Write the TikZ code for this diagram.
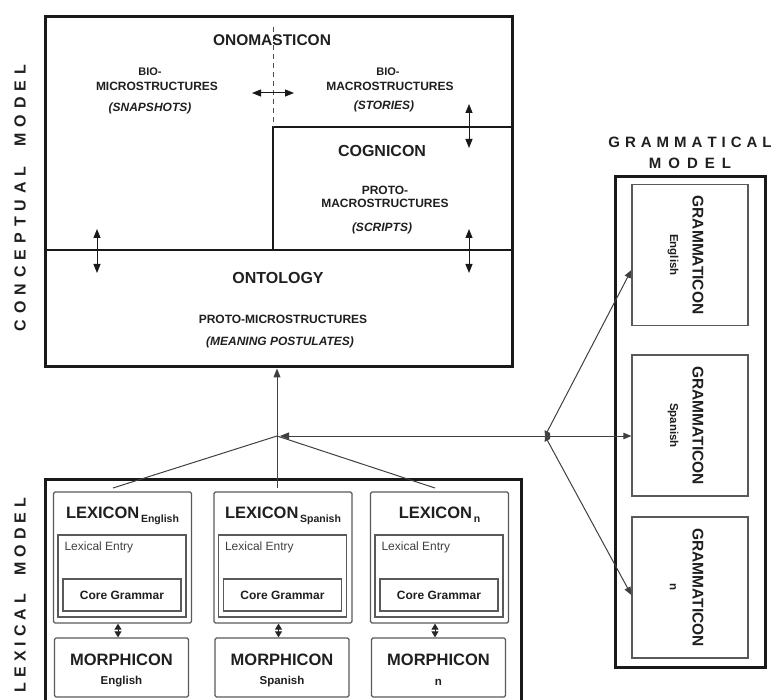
\documentclass[tikz,border=0pt]{standalone}
\usepackage{fontspec}
\setmainfont{Liberation Sans}
\usetikzlibrary{arrows.meta}
\newdimen\lskern \lskern=6pt
\def\lsA#1{\ifx#1\relax\else#1\kern\lskern\expandafter\lsA\fi}
\newcommand\lsp[1]{\lsA#1\relax\unkern}
\newcommand\fsz[1]{\fontsize{#1}{#1}\selectfont}
\tikzset{
  thickbox/.style={draw=black!90, line width=3pt, inner sep=0pt},
  thinbox/.style={draw=black!65, line width=1.3pt, rounded corners=1.5pt, inner sep=0pt},
  lbl/.style={text=black!88, align=center, inner sep=0pt, font=\bfseries},
  conn/.style={draw=black!75, line width=1pt},
  arr/.style={-{Triangle[length=9pt,width=7pt]}},
  darr/.style={{Triangle[length=9pt,width=7pt]}-{Triangle[length=9pt,width=7pt]}},
  sdarr/.style={{Triangle[length=6pt,width=7pt]}-{Triangle[length=6pt,width=7pt]}},
}
\begin{document}
\begin{tikzpicture}[x=1pt,y=-1pt]
\useasboundingbox (0,0) rectangle (779,700);

% ---------------- side labels
\node[lbl, rotate=90, font=\bfseries\fsz{16}] (lblC) at (20,198) {\lsp{CONCEPTUAL}\hspace{20pt}\lsp{MODEL}};
\node[lbl, rotate=90, font=\bfseries\fsz{16}] (lblL) at (20,595) {\lskern=5pt\lsp{LEXICAL}\hspace{18pt}\lsp{MODEL}};
\node[lbl, font=\bfseries\fsz{15}] (lblG1) at (690,142) {\lskern=5pt\lsp{GRAMMATICAL}};
\node[lbl, font=\bfseries\fsz{15}] (lblG2) at (690,163) {\lskern=7pt\lsp{MODEL}};

% ---------------- conceptual model
\node[thickbox, minimum width=467, minimum height=350] (concept) at (278.5,192) {};
\coordinate (divL) at (45,250);
\coordinate (divR) at (512,250);
\coordinate (cogA) at (273,250);
\coordinate (cogB) at (273,127);
\coordinate (cogC) at (512,127);
\draw[black!90, line width=2.6pt] (divL) -- (divR);
\draw[black!90, line width=2.6pt] (cogA) -- (cogB) -- (cogC);
\coordinate (dashT) at (273,27);
\draw[black!70, line width=0.9pt, dash pattern=on 5pt off 4pt] (dashT) -- (cogB);

\node[lbl, font=\bfseries\fsz{15.5}] (ono) at (272,40) {ONOMASTICON};
\node[lbl, font=\bfseries\fsz{11}] (bio1a) at (150,72) {BIO-};
\node[lbl, font=\bfseries\fsz{12}] (bio1b) at (157,86) {MICROSTRUCTURES};
\node[lbl, font=\bfseries\itshape\fsz{12}] (bio1c) at (150,108) {(SNAPSHOTS)};
\node[lbl, font=\bfseries\fsz{11}] (bio2a) at (388,72) {BIO-};
\node[lbl, font=\bfseries\fsz{12}] (bio2b) at (390,86) {MACROSTRUCTURES};
\node[lbl, font=\bfseries\itshape\fsz{12}] (bio2c) at (384,106) {(STORIES)};
\node[lbl, font=\bfseries\fsz{16}] (cog) at (382,151) {COGNICON};
\node[lbl, font=\bfseries\fsz{12}] (pm1) at (385,190) {PROTO-};
\node[lbl, font=\bfseries\fsz{12}] (pm2) at (385,203) {MACROSTRUCTURES};
\node[lbl, font=\bfseries\itshape\fsz{12}] (pm3) at (382,228) {(SCRIPTS)};
\node[lbl, font=\bfseries\fsz{16}] (onto) at (278,278) {ONTOLOGY};
\node[lbl, font=\bfseries\fsz{12}] (pmi1) at (283,319) {PROTO-MICROSTRUCTURES};
\node[lbl, font=\bfseries\itshape\fsz{12}] (pmi2) at (280,342) {(MEANING POSTULATES)};

\coordinate (hA) at (252,93);  \coordinate (hB) at (294,93);
\coordinate (v1A) at (469,104); \coordinate (v1B) at (469,148);
\coordinate (v2A) at (469,229); \coordinate (v2B) at (469,273);
\coordinate (v3A) at (97,229);  \coordinate (v3B) at (97,273);
\draw[conn, black!90, darr] (hA) -- (hB);
\draw[conn, black!90, darr] (v1A) -- (v1B);
\draw[conn, black!90, darr] (v2A) -- (v2B);
\draw[conn, black!90, darr] (v3A) -- (v3B);

% ---------------- grammatical model
\node[thickbox, minimum width=150, minimum height=490] (gram) at (690,422) {};
\foreach \c/\y/\sub in {E/255/English, S/425.5/Spanish, N/587.5/n}{
  \node[thinbox, rounded corners=0pt, minimum width=116, minimum height=141] (g\c) at (690,\y) {};
  \node[lbl, rotate=-90, font=\bfseries\fsz{15.5}] (gt\c) at (698,\y) {GRAMMATICON};
  \node[lbl, rotate=-90, font=\bfseries\fsz{11.5}] (gs\c) at (673,\y) {\sub};
}

% ---------------- lexical model
\node[thickbox, minimum width=476, minimum height=222] (lexmodel) at (283,590) {};
\foreach \c/\x/\sub in {E/122.5/English, S/283/Spanish, N/439.5/n}{
  \node[thinbox, minimum width=138, minimum height=131] (lex\c) at (\x,557.5) {};
  \node[lbl, anchor=base] (lext\c) at (\x,518) {{\fsz{16.5}LEXICON}\,\raisebox{-4.5pt}{\fsz{10.5}\sub}};
  \node[thinbox, rounded corners=0pt, minimum width=128, minimum height=82] (ent\c) at (\x-0.5,576) {};
  \coordinate (enty\c) at (\x,547);
  \node[lbl, font=\fsz{12}, anchor=west, text=black!75] (entt\c) at ([xshift=7pt]ent\c.west |- enty\c) {Lexical Entry};
  \node[thinbox, rounded corners=0pt, minimum width=118, minimum height=32] (core\c) at (\x-0.5,595) {};
  \node[lbl, font=\bfseries\fsz{12}] (coret\c) at (core\c) {Core Grammar};
  \node[thinbox, minimum width=134, minimum height=59] (mor\c) at (\x-1,667.5) {};
  \node[lbl, font=\bfseries\fsz{16.5}] (mort\c) at (\x-1,660) {MORPHICON};
  \node[lbl, font=\bfseries\fsz{11.5}] (mors\c) at (\x-1,682) {\sub};
  \coordinate (ax\c) at (\x-4.5,630);
  \draw[conn, black!85, sdarr] (lex\c.south -| ax\c) -- (mor\c.north -| ax\c);
}

% ---------------- connectors
\coordinate (hub) at (277,436);
\coordinate (cE) at (113,488);
\coordinate (cS) at (277,488);
\coordinate (cN) at (435,488);
\coordinate (J) at (545,436);
\draw[conn] (cE) -- (hub);
\draw[conn] (cN) -- (hub);
\draw[conn, arr] (cS) -- (hub |- concept.south);
\draw[conn, arr, shorten >=3pt] (J) -- (hub);
\draw[conn, {Triangle[length=5pt,width=6pt]}-{Triangle[length=8pt,width=6.5pt]}] (J) -- ([yshift=-15pt]gE.west);
\draw[conn, {Triangle[length=5pt,width=6pt]}-{Triangle[length=8pt,width=6.5pt]}] (J) -- (J -| gS.west);
\draw[conn, {Triangle[length=5pt,width=6pt]}-{Triangle[length=8pt,width=6.5pt]}] (J) -- ([yshift=-7.5pt]gN.west);
\end{tikzpicture}
\end{document}
